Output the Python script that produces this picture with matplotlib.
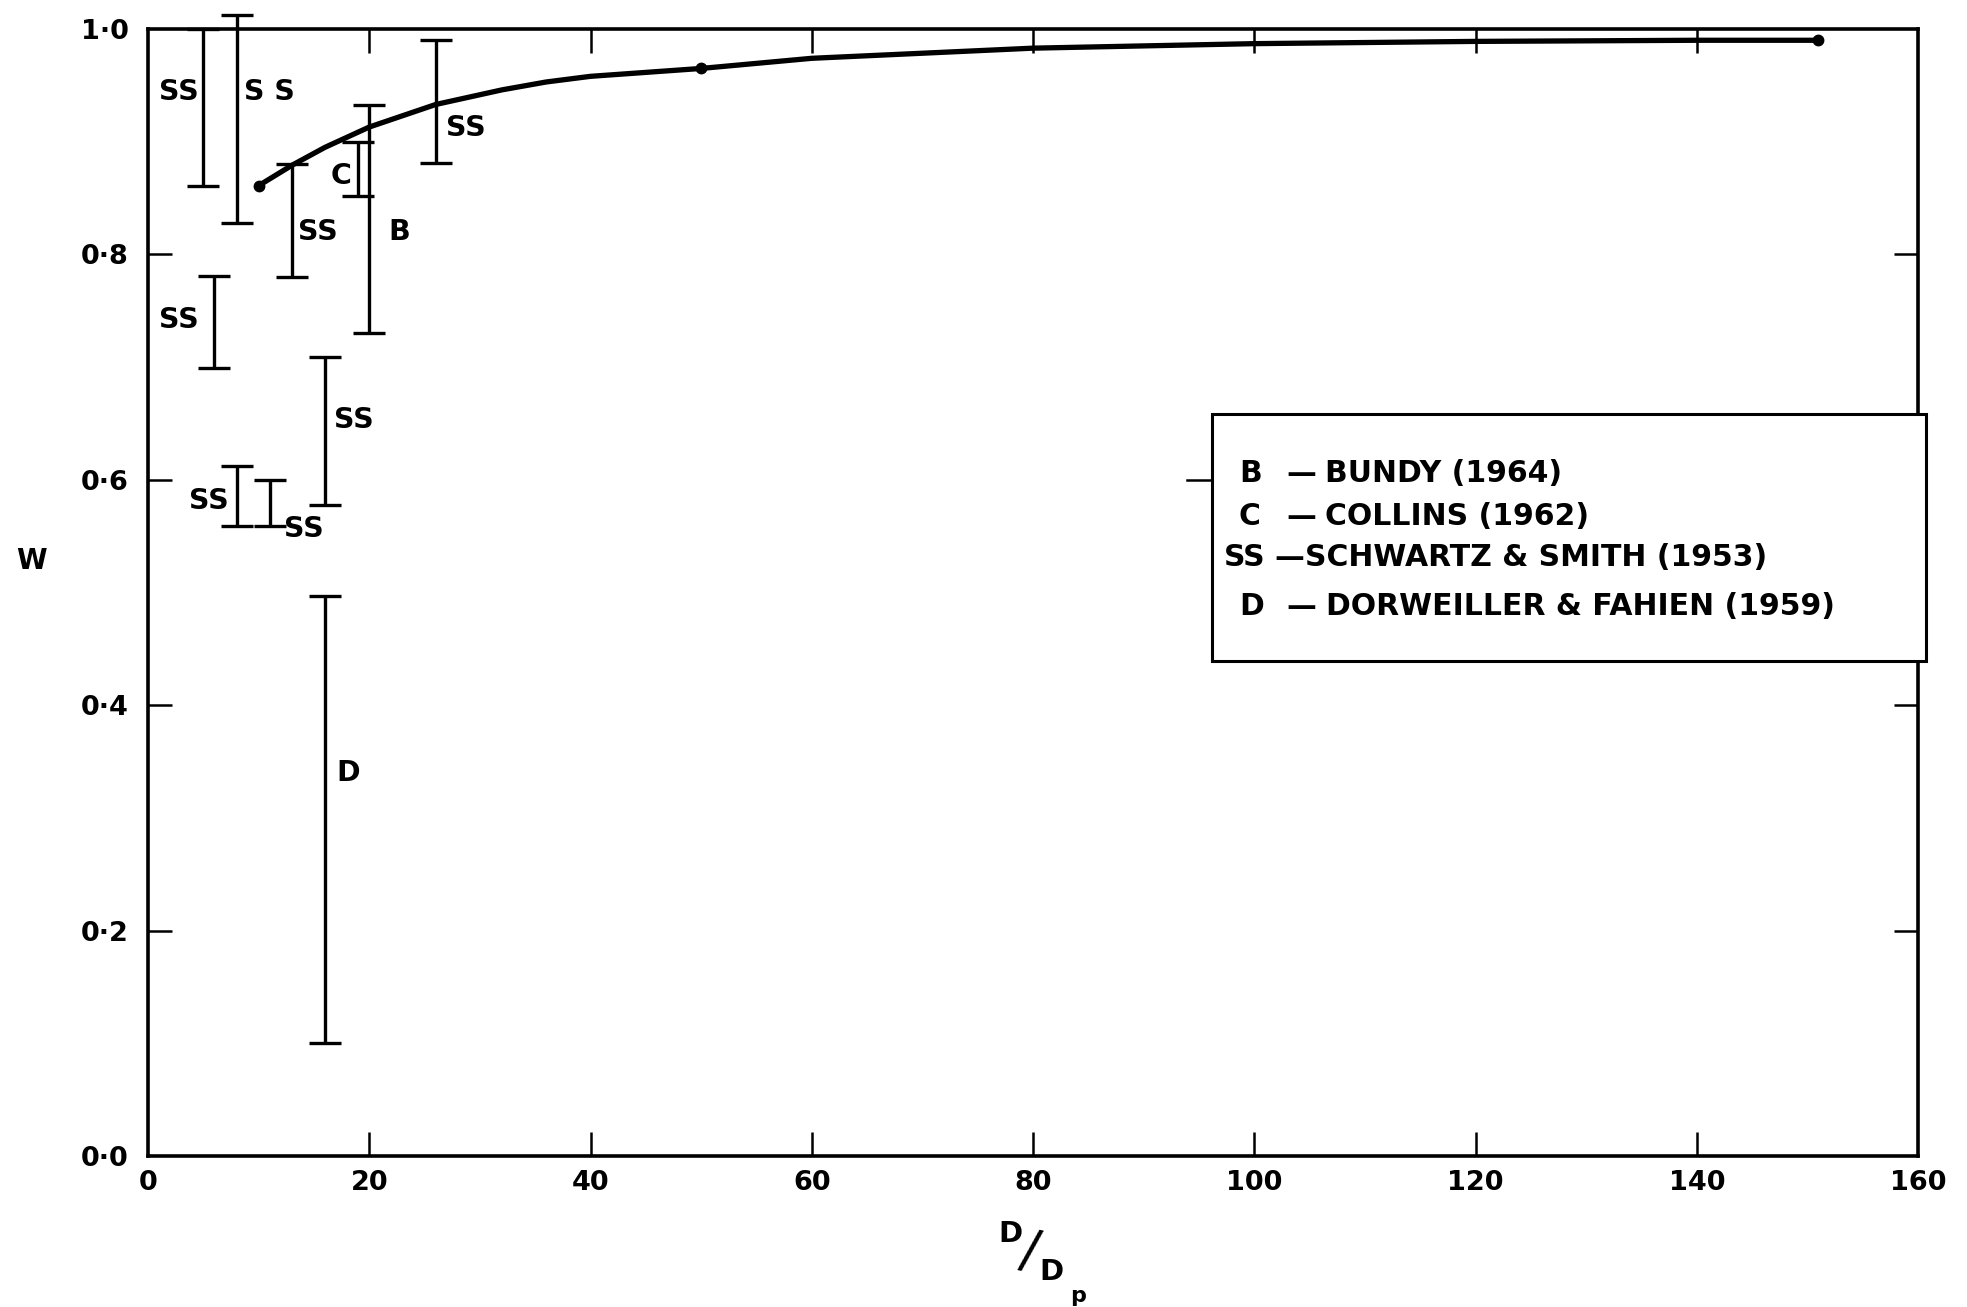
import matplotlib
matplotlib.use("Agg")
import matplotlib.pyplot as plt
from matplotlib.patches import Rectangle
from matplotlib.lines import Line2D

plt.rcParams['font.family'] = ['DejaVu Sans']

# ---- data ----
bar_x    = [5, 8, 13, 19, 20, 26, 6, 8, 11, 16, 16]
bar_low  = [0.861, 0.828, 0.780, 0.852, 0.730, 0.881, 0.699, 0.559, 0.559, 0.578, 0.100]
bar_high = [1.000, 1.012, 0.880, 0.900, 0.933, 0.990, 0.781, 0.612, 0.600, 0.709, 0.497]
bar_labels = ['SS', 'S S', 'SS', 'C', 'B', 'SS', 'SS', 'SS', 'SS', 'SS', 'D']
label_x  = [4.6, 8.7, 13.6, 18.4, 21.7, 26.9, 4.6, 7.3, 12.3, 16.8, 17.0]
label_y  = [0.944, 0.944, 0.820, 0.870, 0.820, 0.912, 0.742, 0.581, 0.556, 0.653, 0.340]
label_ha = ['right', 'left', 'left', 'right', 'left', 'left', 'right', 'right', 'left', 'left', 'left']

curve_x = [10, 13, 16, 20, 26, 32, 36, 40, 50, 60, 80, 100, 120, 140, 151]
curve_w = [0.861, 0.879, 0.895, 0.913, 0.933, 0.946, 0.953, 0.958, 0.965, 0.974, 0.983,
           0.987, 0.989, 0.990, 0.990]
dot_x = [10, 50, 151]
dot_w = [0.861, 0.965, 0.990]

xticks = [0, 20, 40, 60, 80, 100, 120, 140, 160]
yticks = [0.0, 0.2, 0.4, 0.6, 0.8, 1.0]
ytick_labels = ['0·0', '0·2', '0·4', '0·6', '0·8', '1·0']

legend_keys  = ['B', 'C', 'SS', 'D']
legend_names = ['BUNDY (1964)', 'COLLINS (1962)', 'SCHWARTZ & SMITH (1953)',
                'DORWEILLER & FAHIEN (1959)']

# ---- figure ----
W, H = 1967, 1307
fig = plt.figure(figsize=(W / 100, H / 100), dpi=100)
ax = fig.add_axes([148 / W, 1 - 1156 / H, (1918 - 148) / W, (1156 - 29) / H])

ax.set_xlim(0, 160)
ax.set_ylim(0, 1.0)

for s in ax.spines.values():
    s.set_linewidth(2.6)

# error bars
for x, lo, hi in zip(bar_x, bar_low, bar_high):
    ax.errorbar([x], [(lo + hi) / 2], yerr=[[(hi - lo) / 2], [(hi - lo) / 2]],
                fmt='none', ecolor='black', elinewidth=2.4, capsize=11.5, capthick=2.4,
                clip_on=False)

for t, x, y, ha in zip(bar_labels, label_x, label_y, label_ha):
    ax.text(x, y, t, ha=ha, va='center', fontsize=20.5, fontweight='bold')

# curve
ax.plot(curve_x, curve_w, color='black', lw=3.8, solid_capstyle='round')
ax.plot(dot_x, dot_w, 'o', color='black', ms=7.5)

# ticks
ax.set_xticks(xticks)
ax.set_xticklabels([str(v) for v in xticks])
ax.set_yticks(yticks)
ax.set_yticklabels(ytick_labels)
ax.tick_params(axis='both', direction='in', length=17, width=1.8,
               top=True, right=True, labelsize=19.5)
ax.tick_params(axis='x', pad=10)
ax.tick_params(axis='y', pad=14)
for lab in ax.get_xticklabels() + ax.get_yticklabels():
    lab.set_fontweight('bold')
for tl in ax.xaxis.get_major_ticks()[::len(xticks) - 1]:
    tl.tick1line.set_visible(False); tl.tick2line.set_visible(False)
for tl in [ax.yaxis.get_major_ticks()[0], ax.yaxis.get_major_ticks()[-1]]:
    tl.tick1line.set_visible(False); tl.tick2line.set_visible(False)

# legend box (figure coords)
lx0, lx1, ly0, ly1 = 1212, 1926, 414, 661
fig.patches.append(Rectangle((lx0 / W, 1 - ly1 / H), (lx1 - lx0) / W, (ly1 - ly0) / H,
                             transform=fig.transFigure, facecolor='white',
                             edgecolor='black', lw=2.2, zorder=5))
# stray tick mark left of the legend box, as in the reference
fig.lines.append(Line2D([1187 / W, 1212 / W], [1 - 480 / H, 1 - 480 / H],
                        transform=fig.transFigure, color='black', lw=1.8, zorder=5))
rows_y = [474, 516, 558, 607]
key_x  = [1239, 1239, 1224, 1239]
dash_x = [1286, 1286, 1274, 1286]
name_x = [1325, 1325, 1305, 1326]
for k, n, y, kx, dx, nx in zip(legend_keys, legend_names, rows_y, key_x, dash_x, name_x):
    fig.text(kx / W, 1 - y / H, k, ha='left', va='center', fontsize=21.5,
             fontweight='bold', zorder=6)
    fig.text(dx / W, 1 - y / H, '—', ha='left', va='center', fontsize=21.5,
             fontweight='bold', zorder=6)
    fig.text(nx / W, 1 - y / H, n, ha='left', va='center', fontsize=21.5,
             fontweight='bold', zorder=6)

# axis labels
fig.text(31 / W, 1 - 561 / H, 'W', ha='center', va='center', fontsize=20, fontweight='bold')
fig.text(1010 / W, 1 - 1234 / H, 'D', ha='center', va='center', fontsize=21, fontweight='bold')
fig.text(1030 / W, 1 - 1252 / H, '/', ha='center', va='center', fontsize=38, rotation=-12)
fig.text(1051 / W, 1 - 1272 / H, 'D', ha='center', va='center', fontsize=21, fontweight='bold')
fig.text(1078 / W, 1 - 1296 / H, 'p', ha='center', va='center', fontsize=16, fontweight='bold')

fig.savefig('out.png', dpi=100)
